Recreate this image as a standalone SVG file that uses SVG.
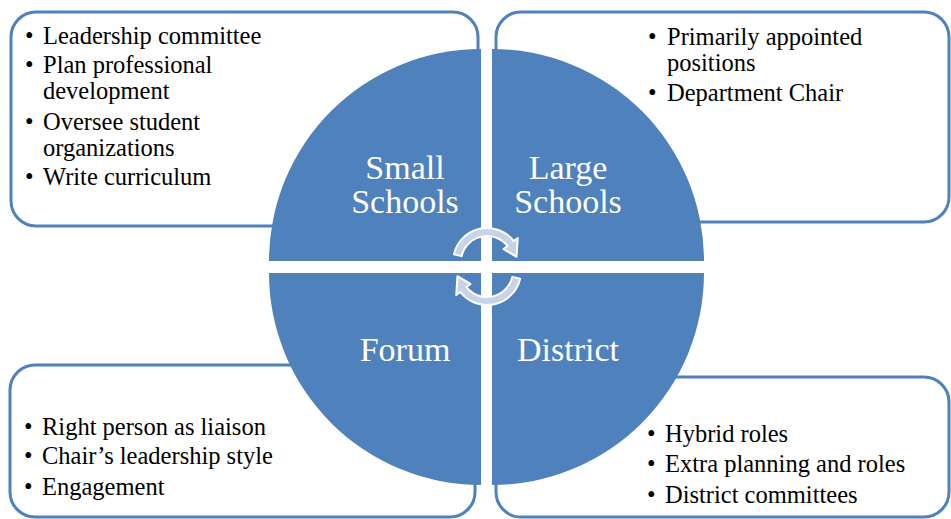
<svg xmlns="http://www.w3.org/2000/svg" width="951" height="519" viewBox="0 0 951 519">
  <style>
    .box { fill: #ffffff; stroke: #4f81bd; stroke-width: 3; }
    .quad { fill: #4f81bd; }
    .txt { font-family: 'Liberation Serif', 'DejaVu Serif', serif; font-size: 24.5px; fill: #000000; }
    .lbl { font-family: 'Liberation Serif', 'DejaVu Serif', serif; font-size: 34px; fill: #ffffff; text-anchor: middle; }
    .arr { fill: #c6d3ea; stroke: #ffffff; stroke-width: 2; stroke-linejoin: round; }
  </style>
  <rect x="0" y="0" width="951" height="519" fill="#ffffff"/>

  <g id="box-small-schools">
    <rect class="box" x="11" y="12" width="467" height="214" rx="25" ry="25"/>
    <text class="txt" x="25" y="44">•</text><text class="txt" x="43" y="44">Leadership committee</text>
    <text class="txt" x="25" y="73">•</text><text class="txt" x="43" y="73">Plan professional</text>
    <text class="txt" x="43" y="99">development</text>
    <text class="txt" x="25" y="130">•</text><text class="txt" x="43" y="130">Oversee student</text>
    <text class="txt" x="43" y="156">organizations</text>
    <text class="txt" x="25" y="185">•</text><text class="txt" x="43" y="185">Write curriculum</text>
  </g>

  <g id="box-large-schools">
    <rect class="box" x="496" y="12" width="453" height="210" rx="25" ry="25"/>
    <text class="txt" x="648" y="45">•</text><text class="txt" x="667" y="45">Primarily appointed</text>
    <text class="txt" x="667" y="71">positions</text>
    <text class="txt" x="648" y="101">•</text><text class="txt" x="667" y="101">Department Chair</text>
  </g>

  <g id="box-forum">
    <rect class="box" x="10" y="365" width="465" height="152" rx="25" ry="25"/>
    <text class="txt" x="24" y="435">•</text><text class="txt" x="42" y="435">Right person as liaison</text>
    <text class="txt" x="24" y="464">•</text><text class="txt" x="42" y="464">Chair’s leadership style</text>
    <text class="txt" x="24" y="495">•</text><text class="txt" x="42" y="495">Engagement</text>
  </g>

  <g id="box-district">
    <rect class="box" x="496" y="377" width="453" height="140" rx="25" ry="25"/>
    <text class="txt" x="647" y="442">•</text><text class="txt" x="665" y="442">Hybrid roles</text>
    <text class="txt" x="647" y="472">•</text><text class="txt" x="665" y="472">Extra planning and roles</text>
    <text class="txt" x="647" y="503">•</text><text class="txt" x="665" y="503">District committees</text>
  </g>

  <g id="quad-small-schools">
    <path class="quad" d="M481 261 L269 261 A212 212 0 0 1 481 49 Z"/>
    <text class="lbl" x="405" y="179">Small</text>
    <text class="lbl" x="405" y="213">Schools</text>
  </g>
  <g id="quad-large-schools">
    <path class="quad" d="M492 261 L492 49 A212 212 0 0 1 704 261 Z"/>
    <text class="lbl" x="568" y="179">Large</text>
    <text class="lbl" x="568" y="213">Schools</text>
  </g>
  <g id="quad-district">
    <path class="quad" d="M492 273 L704 273 A212 212 0 0 1 492 485 Z"/>
    <text class="lbl" x="568" y="361">District</text>
  </g>
  <g id="quad-forum">
    <path class="quad" d="M481 273 L481 485 A212 212 0 0 1 269 273 Z"/>
    <text class="lbl" x="405" y="361">Forum</text>
  </g>

  <g id="connectors">
    <path class="arr" d="M453.87 254.35 A34 34 0 0 1 513.79 241.07 L517.73 237.99 L516.54 256.79 L503.55 249.07 L507.49 245.99 A26 26 0 0 0 461.67 256.15 Z"/>
    <path class="arr" d="M520.13 278.65 A34 34 0 0 1 460.21 291.93 L456.27 295.01 L457.46 276.21 L470.45 283.93 L466.51 287.01 A26 26 0 0 0 512.33 276.85 Z"/>
  </g>
</svg>
